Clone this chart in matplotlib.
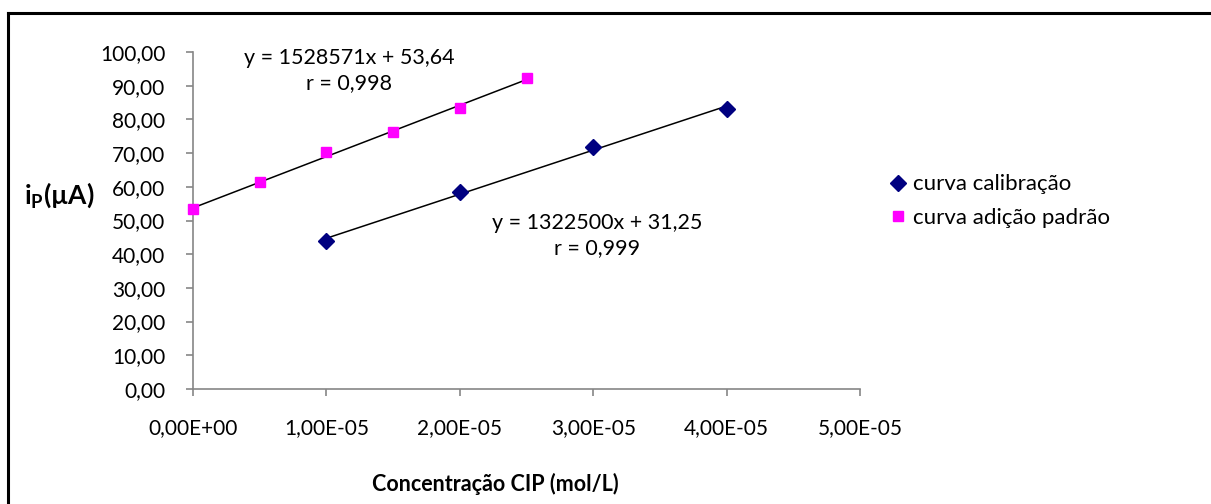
import matplotlib
matplotlib.use("Agg")
import matplotlib.pyplot as plt
import numpy as np
from matplotlib.lines import Line2D

# data
conc_calib = [1e-5, 2e-5, 3e-5, 4e-5]
ip_calib = [44.0, 58.5, 71.7, 83.2]
conc_add = [0.0, 0.5e-5, 1e-5, 1.5e-5, 2e-5, 2.5e-5]
ip_add = [53.4, 61.3, 70.2, 76.2, 83.3, 92.3]

eq_add = "y = 1528571x + 53,64\nr = 0,998"
eq_calib = "y = 1322500x + 31,25\nr = 0,999"
series_names = ["curva calibração", "curva adição padrão"]

plt.rcParams['font.family'] = ['Lato', 'DejaVu Sans']
plt.rcParams['mathtext.fontset'] = 'custom'
plt.rcParams['mathtext.bf'] = 'Lato:bold'
plt.rcParams['mathtext.rm'] = 'Lato'

fig = plt.figure(figsize=(12.11, 5.04), dpi=100)
ax = fig.add_axes([0.1594, 0.2282, 0.5508, 0.6686])

# trendlines (least squares over each data range)
for xs, ys in [(conc_calib, ip_calib), (conc_add, ip_add)]:
    m, b = np.polyfit(xs, ys, 1)
    xx = np.array([min(xs), max(xs)])
    ax.plot(xx, m * xx + b, color='black', lw=1.1, zorder=2)

h1, = ax.plot(conc_calib, ip_calib, 'D', color='#000080', markersize=8,
              linestyle='none', zorder=3, label=series_names[0])
h2, = ax.plot(conc_add, ip_add, 's', color='#FF00FF', markersize=7,
              linestyle='none', zorder=3, label=series_names[1])

ax.set_xlim(0, 5e-5)
ax.set_ylim(0, 100)
ax.set_xticks(np.arange(0, 5.01e-5, 1e-5))
ax.set_yticks(np.arange(0, 101, 10))
ax.xaxis.set_major_formatter(lambda v, p: f"{v:.2E}".replace('.', ','))
ax.yaxis.set_major_formatter(lambda v, p: f"{v:.2f}".replace('.', ','))

for s in ['top', 'right']:
    ax.spines[s].set_visible(False)
for s in ['left', 'bottom']:
    ax.spines[s].set_color('#868686')
    ax.spines[s].set_linewidth(1.2)
ax.tick_params(axis='both', direction='out', length=5, width=1.2,
               color='#868686', labelsize=15, labelcolor='black')
ax.tick_params(axis='x', pad=16)
ax.tick_params(axis='y', pad=15)
for ln in ax.lines:
    ln.set_clip_on(False)

# equation labels
ax.text(1.17e-5, 94.5, eq_add, ha='center', va='center', fontsize=15.5,
        linespacing=1.35)
ax.text(3.03e-5, 45.5, eq_calib, ha='center', va='center', fontsize=15.5,
        linespacing=1.35)

# axis titles
fig.text(0.049, 0.613, r"i$_\mathbf{P}$(µA)", fontsize=19, fontweight='bold',
         ha='center', va='center')
fig.text(0.409, 0.04, "Concentração CIP (mol/L)", fontsize=15.5,
         fontweight='bold', ha='center', va='center')

fig.legend(handles=[h1, h2], loc='center left', bbox_to_anchor=(0.729, 0.601),
           frameon=False, fontsize=16, handlelength=0.6, handletextpad=0.35,
           labelspacing=0.6, borderaxespad=0)

# chart border: only top and left edges show in the crop
fig.lines.append(Line2D([0.0066, 1.0], [0.974, 0.974], transform=fig.transFigure,
                        color='black', lw=2.2))
fig.lines.append(Line2D([0.0066, 0.0066], [0.0, 0.974], transform=fig.transFigure,
                        color='black', lw=2.2))

fig.savefig("out.png", dpi=100)
